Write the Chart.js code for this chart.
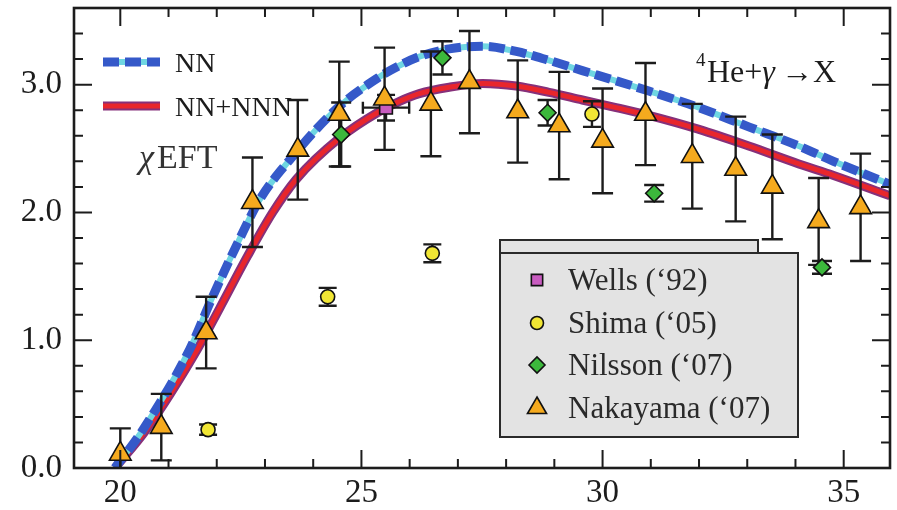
<!DOCTYPE html>
<html>
<head>
<meta charset="utf-8">
<script src="https://cdn.jsdelivr.net/npm/chart.js@4.4.1/dist/chart.umd.min.js"></script>
<style>
  html, body { margin: 0; padding: 0; background: #fff; }
  #wrap { width: 897px; height: 510px; }
</style>
</head>
<body>
<div id="wrap"><canvas id="chart" width="897" height="510"></canvas></div>
<script>
// chiEFT curves
const nnX  = [19.89, 20.47, 21.44, 21.89, 22.37, 22.89, 23.51, 24.54, 25.37, 25.79, 26.2, 26.82, 27.51, 28.21, 28.89, 29.58, 30.28, 30.96, 32.0, 33.03, 34.07, 34.79, 35.96];
const nnY  = [0, 0.30, 0.93, 1.32, 1.71, 2.10, 2.41, 2.83, 3.06, 3.15, 3.22, 3.28, 3.30, 3.26, 3.19, 3.11, 3.03, 2.95, 2.82, 2.67, 2.52, 2.40, 2.22];
const nnnX = [19.89, 20.54, 21.6, 22.06, 22.64, 23.16, 23.65, 24.54, 25.37, 25.79, 26.2, 26.82, 27.51, 28.21, 28.89, 29.58, 30.28, 30.96, 32.0, 33.03, 34.07, 34.79, 35.96];
const nnnY = [0, 0.30, 0.93, 1.25, 1.66, 2.00, 2.26, 2.58, 2.79, 2.87, 2.93, 2.98, 3.01, 2.99, 2.94, 2.88, 2.82, 2.76, 2.65, 2.52, 2.38, 2.29, 2.13];

// experiments
const wellsX = [25.51];
const wellsY = [2.82];
const wellsErr = [0.10];
const wellsXErr = [0.48];

const shimaX = [21.82, 24.3, 26.47, 29.78];
const shimaY = [0.30, 1.34, 1.68, 2.77];
const shimaErr = [0.04, 0.07, 0.07, 0.10];

const nilssonX = [24.58, 26.68, 28.86, 31.07, 34.55];
const nilssonY = [2.61, 3.21, 2.78, 2.15, 1.57];
const nilssonErr = [0.25, 0.13, 0.10, 0.065, 0.05];

const nakX = [20.0, 20.85, 21.78, 22.74, 23.68, 24.54, 25.48, 26.44, 27.24, 28.24, 29.1, 30.0, 30.89, 31.86, 32.76, 33.52, 34.48, 35.35];
const nakY = [0.11, 0.32, 1.06, 2.08, 2.49, 2.77, 2.89, 2.85, 3.02, 2.79, 2.68, 2.56, 2.77, 2.44, 2.34, 2.20, 1.93, 2.04];
const nakErr = [0.20, 0.26, 0.28, 0.35, 0.39, 0.41, 0.40, 0.41, 0.40, 0.40, 0.42, 0.41, 0.40, 0.41, 0.41, 0.41, 0.34, 0.42];

const xMajor = [20, 25, 30, 35];
const yMajor = [0, 1, 2, 3];
const xRange = [19.04, 35.96];
const yRange = [0, 3.6];

const FONT = '"Liberation Serif", "DejaVu Serif", serif';
const INK = '#1c1c1c';
const BLUE = '#3559c9';
const CYAN = '#6fd6e2';
const PURPLE = '#86307a';
const RED = '#e8262c';

const pts = (xs, ys) => xs.map((x, i) => ({ x, y: ys[i] }));

const markerSets = [
    { label: "Wells ('92)", xs: wellsX, ys: wellsY, err: wellsErr, xErr: wellsXErr, style: 'rect', r: 9, color: '#c85cc0', cap: 18 },
    { label: "Shima ('05)", xs: shimaX, ys: shimaY, err: shimaErr, style: 'circle', r: 7, color: '#f1e634', cap: 18 },
    { label: "Nilsson ('07)", xs: nilssonX, ys: nilssonY, err: nilssonErr, style: 'rectRot', r: 8.5, color: '#3cb83c', cap: 20 },
    { label: "Nakayama ('07)", xs: nakX, ys: nakY, err: nakErr, style: 'triangle', r: 12.5, color: '#f5aa1e', cap: 21 }
];

const curve = (xs, ys, color, width, order, extra) => Object.assign({
    type: 'line', data: pts(xs, ys), borderColor: color, borderWidth: width,
    pointRadius: 0, cubicInterpolationMode: 'monotone', fill: false, order: order
}, extra || {});

const datasets = [
    curve(nnnX, nnnY, PURPLE, 9, 14),
    curve(nnnX, nnnY, RED, 5, 13),
    curve(nnX, nnY, CYAN, 6, 12),
    curve(nnX, nnY, BLUE, 9, 11, { borderDash: [16, 6], barsAfter: true })
];
markerSets.forEach((m, i) => datasets.push({
    type: 'scatter', label: m.label, data: pts(m.xs, m.ys), yErr: m.err, xErr: m.xErr, capW: m.cap,
    pointStyle: m.style, pointRadius: m.r, pointHoverRadius: m.r,
    backgroundColor: m.color, borderColor: '#111', borderWidth: 1.6, order: 4 - i
}));

// error bars go between the curves and the markers
const errorBars = {
    id: 'errorBars',
    afterDatasetDraw(chart, args) {
        if (!chart.data.datasets[args.index].barsAfter) return;
        const { ctx, chartArea: a, scales: { x, y } } = chart;
        ctx.save();
        ctx.beginPath();
        ctx.rect(a.left, a.top, a.right - a.left, a.bottom - a.top);
        ctx.clip();
        ctx.strokeStyle = INK;
        ctx.lineWidth = 2.4;
        chart.data.datasets.forEach(d => {
            if (!d.yErr) return;
            d.data.forEach((p, i) => {
                const px = x.getPixelForValue(p.x);
                const py = y.getPixelForValue(p.y);
                const top = y.getPixelForValue(p.y + d.yErr[i]);
                const bot = y.getPixelForValue(p.y - d.yErr[i]);
                const c = d.capW / 2;
                ctx.beginPath();
                ctx.moveTo(px, top); ctx.lineTo(px, bot);
                ctx.moveTo(px - c, top); ctx.lineTo(px + c, top);
                ctx.moveTo(px - c, bot); ctx.lineTo(px + c, bot);
                if (d.xErr) {
                    const l = x.getPixelForValue(p.x - d.xErr[i]);
                    const r = x.getPixelForValue(p.x + d.xErr[i]);
                    ctx.moveTo(l, py); ctx.lineTo(r, py);
                    ctx.moveTo(l, py - 6); ctx.lineTo(l, py + 6);
                    ctx.moveTo(r, py - 6); ctx.lineTo(r, py + 6);
                }
                ctx.stroke();
            });
        });
        ctx.restore();
    }
};

// frame with inward ticks on all four sides
const frame = {
    id: 'frame',
    afterDatasetsDraw(chart) {
        const { ctx, chartArea: a, scales: { x, y } } = chart;
        ctx.save();
        ctx.strokeStyle = INK;
        ctx.lineWidth = 2;
        ctx.beginPath();
        for (let v = Math.ceil(xRange[0]); v <= xRange[1]; v++) {
            const len = xMajor.includes(v) ? 18 : 9;
            const px = x.getPixelForValue(v);
            ctx.moveTo(px, a.bottom); ctx.lineTo(px, a.bottom - len);
            ctx.moveTo(px, a.top); ctx.lineTo(px, a.top + len);
        }
        for (let k = 0; k * 0.2 <= yRange[1] + 1e-9; k++) {
            const v = k * 0.2;
            const len = k % 5 === 0 ? 18 : 9;
            const py = y.getPixelForValue(v);
            ctx.moveTo(a.left, py); ctx.lineTo(a.left + len, py);
            ctx.moveTo(a.right, py); ctx.lineTo(a.right - len, py);
        }
        ctx.stroke();
        ctx.lineWidth = 2.6;
        ctx.strokeRect(a.left, a.top, a.right - a.left, a.bottom - a.top);
        ctx.restore();
    }
};

const notes = {
    id: 'notes',
    afterDraw(chart) {
        const ctx = chart.ctx;
        ctx.save();
        // theory legend, top left
        const sample = (yy, layers) => layers.forEach(s => {
            ctx.beginPath();
            ctx.strokeStyle = s.c; ctx.lineWidth = s.w; ctx.setLineDash(s.dash || []);
            ctx.moveTo(103, yy); ctx.lineTo(160, yy); ctx.stroke();
        });
        sample(62, [{ c: CYAN, w: 6 }, { c: BLUE, w: 9, dash: [16, 6] }]);
        sample(106, [{ c: PURPLE, w: 9 }, { c: RED, w: 5 }]);
        ctx.setLineDash([]);
        ctx.fillStyle = INK;
        ctx.textBaseline = 'alphabetic';
        ctx.textAlign = 'left';
        ctx.font = '28px ' + FONT;
        ctx.fillText('NN', 175, 72);
        ctx.fillText('NN+NNN', 175, 116);

        // chi EFT: place by ink extents, the italic chi has odd bearings
        ctx.fillStyle = '#333';
        ctx.font = 'italic 34px ' + FONT;
        const chi = ctx.measureText('\u03c7');
        const chiX = 136 + chi.actualBoundingBoxLeft;
        ctx.fillText('\u03c7', chiX, 168);
        ctx.font = '34px ' + FONT;
        const eft = ctx.measureText('EFT');
        ctx.fillText('EFT', chiX + chi.actualBoundingBoxRight + 2 + eft.actualBoundingBoxLeft, 168);

        // reaction, top right
        ctx.fillStyle = INK;
        ctx.font = '19px ' + FONT;
        ctx.fillText('4', 696, 66);
        ctx.font = '32px ' + FONT;
        ctx.fillText('He+', 707, 82);
        let cx = 707 + ctx.measureText('He+').width;
        ctx.font = 'italic 32px ' + FONT;
        ctx.fillText('\u03b3', cx, 82);
        cx += ctx.measureText('\u03b3').width + 6;
        ctx.font = '32px ' + FONT;
        ctx.fillText('\u2192X', cx, 82);

        // experiment legend box
        ctx.fillStyle = '#e3e3e3';
        ctx.strokeStyle = '#2a2a2a';
        ctx.lineWidth = 2;
        ctx.fillRect(500, 240, 258, 13);
        ctx.strokeRect(500, 240, 258, 13);
        ctx.fillRect(500, 253, 298, 184);
        ctx.strokeRect(500, 253, 298, 184);
        const rows = [280, 323, 365, 408];
        const legR = [8, 6.5, 8, 11];
        markerSets.forEach((m, i) => {
            ctx.fillStyle = m.color;
            ctx.strokeStyle = '#111';
            ctx.lineWidth = 1.6;
            Chart.helpers.drawPoint(ctx, { pointStyle: m.style, radius: legR[i], borderWidth: 1.6, rotation: 0 }, 537, rows[i]);
            ctx.fillStyle = '#2a2a2a';
            ctx.font = '31px ' + FONT;
            ctx.fillText(m.label.replace("'", '\u2018'), 568, rows[i] + 10);
        });
        ctx.restore();
    }
};

// no extra label overhang padding: the plot box is placed exactly
const noPad = s => { s.paddingTop = 0; s.paddingBottom = 0; s.paddingLeft = 0; s.paddingRight = 0; };

new Chart(document.getElementById('chart'), {
    type: 'scatter',
    data: { datasets },
    options: {
        responsive: false,
        animation: false,
        devicePixelRatio: 1,
        layout: { autoPadding: false, padding: { top: 8, right: 7, left: 0, bottom: 0 } },
        plugins: { legend: { display: false }, tooltip: { enabled: false } },
        scales: {
            x: {
                type: 'linear', min: xRange[0], max: xRange[1],
                grid: { display: false, drawTicks: false }, border: { display: false },
                afterBuildTicks: s => { s.ticks = xMajor.map(v => ({ value: v })); },
                afterFit: s => { s.height = 42; noPad(s); },
                ticks: { font: { family: FONT, size: 33 }, color: INK, padding: 6, maxRotation: 0, callback: v => String(v) }
            },
            y: {
                type: 'linear', min: yRange[0], max: yRange[1],
                grid: { display: false, drawTicks: false }, border: { display: false },
                afterBuildTicks: s => { s.ticks = yMajor.map(v => ({ value: v })); },
                afterFit: s => { s.width = 74; noPad(s); },
                ticks: { font: { family: FONT, size: 33 }, color: INK, padding: 12, callback: v => v.toFixed(1) }
            }
        }
    },
    plugins: [errorBars, frame, notes]
});
</script>
</body>
</html>
